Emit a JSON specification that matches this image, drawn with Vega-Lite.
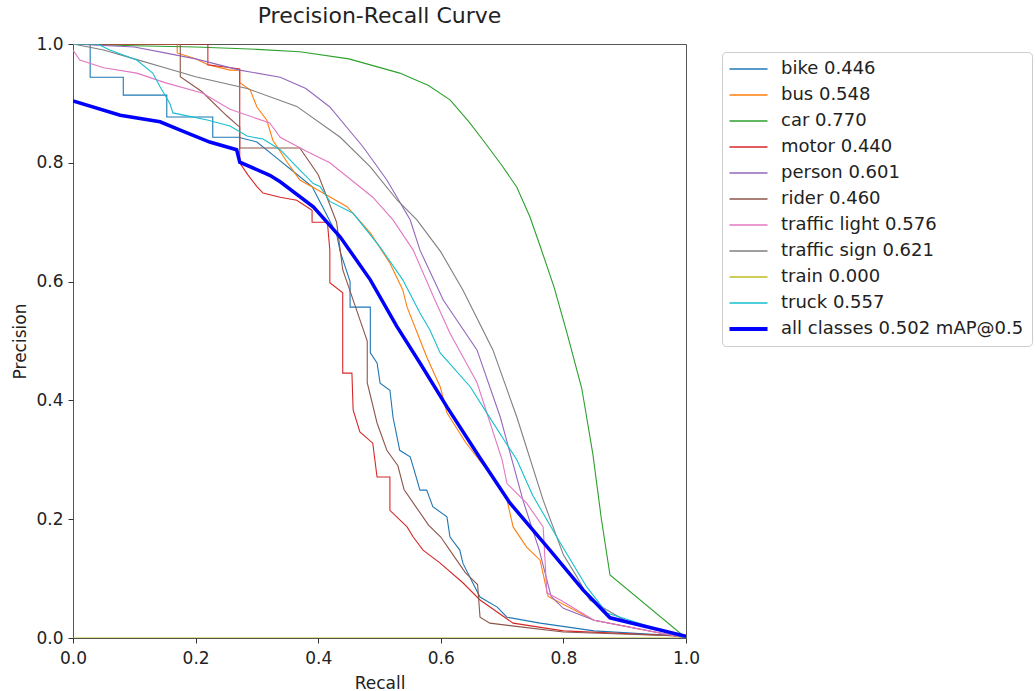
{
"$schema":"https://vega.github.io/schema/vega-lite/v6.json",
"width":613,"height":594,
"autosize":{"type":"none"},
"padding":{"left":73,"top":44,"right":349,"bottom":53},
"config":{"font":"DejaVu Sans","view":{"stroke":"#555","strokeWidth":1}},
"title":{"text":"Precision-Recall Curve","fontSize":22,"fontWeight":"normal","font":"DejaVu Sans","offset":7,"color":"#222"},
"data":{"values":[
{"c":"bike 0.446","x":0,"y":1},{"c":"bike 0.446","x":0.028,"y":1},{"c":"bike 0.446","x":0.028,"y":0.944},{"c":"bike 0.446","x":0.082,"y":0.944},{"c":"bike 0.446","x":0.082,"y":0.914},{"c":"bike 0.446","x":0.153,"y":0.914},{"c":"bike 0.446","x":0.153,"y":0.877},{"c":"bike 0.446","x":0.228,"y":0.877},{"c":"bike 0.446","x":0.228,"y":0.843},{"c":"bike 0.446","x":0.27,"y":0.843},{"c":"bike 0.446","x":0.3,"y":0.835},{"c":"bike 0.446","x":0.33,"y":0.81},{"c":"bike 0.446","x":0.36,"y":0.785},{"c":"bike 0.446","x":0.39,"y":0.76},{"c":"bike 0.446","x":0.41,"y":0.72},{"c":"bike 0.446","x":0.43,"y":0.68},{"c":"bike 0.446","x":0.436,"y":0.65},{"c":"bike 0.446","x":0.452,"y":0.6},{"c":"bike 0.446","x":0.452,"y":0.557},{"c":"bike 0.446","x":0.485,"y":0.557},{"c":"bike 0.446","x":0.485,"y":0.48},{"c":"bike 0.446","x":0.496,"y":0.463},{"c":"bike 0.446","x":0.501,"y":0.429},{"c":"bike 0.446","x":0.517,"y":0.417},{"c":"bike 0.446","x":0.522,"y":0.372},{"c":"bike 0.446","x":0.533,"y":0.316},{"c":"bike 0.446","x":0.55,"y":0.305},{"c":"bike 0.446","x":0.555,"y":0.288},{"c":"bike 0.446","x":0.566,"y":0.249},{"c":"bike 0.446","x":0.577,"y":0.249},{"c":"bike 0.446","x":0.587,"y":0.221},{"c":"bike 0.446","x":0.61,"y":0.204},{"c":"bike 0.446","x":0.615,"y":0.17},{"c":"bike 0.446","x":0.631,"y":0.148},{"c":"bike 0.446","x":0.636,"y":0.126},{"c":"bike 0.446","x":0.652,"y":0.093},{"c":"bike 0.446","x":0.664,"y":0.069},{"c":"bike 0.446","x":0.692,"y":0.052},{"c":"bike 0.446","x":0.708,"y":0.035},{"c":"bike 0.446","x":0.762,"y":0.025},{"c":"bike 0.446","x":0.85,"y":0.012},{"c":"bike 0.446","x":1,"y":0.003},
{"c":"bus 0.548","x":0,"y":1},{"c":"bus 0.548","x":0.17,"y":1},{"c":"bus 0.548","x":0.17,"y":0.985},{"c":"bus 0.548","x":0.2,"y":0.975},{"c":"bus 0.548","x":0.22,"y":0.965},{"c":"bus 0.548","x":0.256,"y":0.956},{"c":"bus 0.548","x":0.272,"y":0.956},{"c":"bus 0.548","x":0.272,"y":0.935},{"c":"bus 0.548","x":0.289,"y":0.923},{"c":"bus 0.548","x":0.3,"y":0.894},{"c":"bus 0.548","x":0.316,"y":0.872},{"c":"bus 0.548","x":0.326,"y":0.838},{"c":"bus 0.548","x":0.35,"y":0.8},{"c":"bus 0.548","x":0.37,"y":0.771},{"c":"bus 0.548","x":0.408,"y":0.749},{"c":"bus 0.548","x":0.447,"y":0.726},{"c":"bus 0.548","x":0.485,"y":0.682},{"c":"bus 0.548","x":0.517,"y":0.631},{"c":"bus 0.548","x":0.538,"y":0.586},{"c":"bus 0.548","x":0.545,"y":0.557},{"c":"bus 0.548","x":0.566,"y":0.502},{"c":"bus 0.548","x":0.577,"y":0.473},{"c":"bus 0.548","x":0.599,"y":0.423},{"c":"bus 0.548","x":0.61,"y":0.379},{"c":"bus 0.548","x":0.64,"y":0.33},{"c":"bus 0.548","x":0.67,"y":0.29},{"c":"bus 0.548","x":0.692,"y":0.26},{"c":"bus 0.548","x":0.708,"y":0.232},{"c":"bus 0.548","x":0.718,"y":0.187},{"c":"bus 0.548","x":0.74,"y":0.153},{"c":"bus 0.548","x":0.762,"y":0.131},{"c":"bus 0.548","x":0.775,"y":0.07},{"c":"bus 0.548","x":0.85,"y":0.03},{"c":"bus 0.548","x":1,"y":0},
{"c":"car 0.770","x":0,"y":1},{"c":"car 0.770","x":0.1,"y":0.997},{"c":"car 0.770","x":0.2,"y":0.995},{"c":"car 0.770","x":0.3,"y":0.991},{"c":"car 0.770","x":0.37,"y":0.987},{"c":"car 0.770","x":0.45,"y":0.975},{"c":"car 0.770","x":0.533,"y":0.951},{"c":"car 0.770","x":0.58,"y":0.93},{"c":"car 0.770","x":0.615,"y":0.906},{"c":"car 0.770","x":0.645,"y":0.87},{"c":"car 0.770","x":0.669,"y":0.838},{"c":"car 0.770","x":0.7,"y":0.795},{"c":"car 0.770","x":0.724,"y":0.759},{"c":"car 0.770","x":0.745,"y":0.71},{"c":"car 0.770","x":0.762,"y":0.66},{"c":"car 0.770","x":0.785,"y":0.59},{"c":"car 0.770","x":0.806,"y":0.513},{"c":"car 0.770","x":0.83,"y":0.42},{"c":"car 0.770","x":0.848,"y":0.31},{"c":"car 0.770","x":0.862,"y":0.2},{"c":"car 0.770","x":0.876,"y":0.106},{"c":"car 0.770","x":1,"y":0},
{"c":"motor 0.440","x":0,"y":1},{"c":"motor 0.440","x":0.22,"y":1},{"c":"motor 0.440","x":0.22,"y":0.965},{"c":"motor 0.440","x":0.272,"y":0.958},{"c":"motor 0.440","x":0.272,"y":0.8},{"c":"motor 0.440","x":0.285,"y":0.78},{"c":"motor 0.440","x":0.3,"y":0.76},{"c":"motor 0.440","x":0.31,"y":0.749},{"c":"motor 0.440","x":0.338,"y":0.742},{"c":"motor 0.440","x":0.365,"y":0.737},{"c":"motor 0.440","x":0.39,"y":0.72},{"c":"motor 0.440","x":0.39,"y":0.7},{"c":"motor 0.440","x":0.415,"y":0.7},{"c":"motor 0.440","x":0.419,"y":0.653},{"c":"motor 0.440","x":0.419,"y":0.598},{"c":"motor 0.440","x":0.44,"y":0.581},{"c":"motor 0.440","x":0.44,"y":0.446},{"c":"motor 0.440","x":0.455,"y":0.446},{"c":"motor 0.440","x":0.457,"y":0.384},{"c":"motor 0.440","x":0.468,"y":0.347},{"c":"motor 0.440","x":0.489,"y":0.328},{"c":"motor 0.440","x":0.496,"y":0.271},{"c":"motor 0.440","x":0.517,"y":0.271},{"c":"motor 0.440","x":0.517,"y":0.215},{"c":"motor 0.440","x":0.545,"y":0.187},{"c":"motor 0.440","x":0.555,"y":0.17},{"c":"motor 0.440","x":0.571,"y":0.148},{"c":"motor 0.440","x":0.599,"y":0.126},{"c":"motor 0.440","x":0.636,"y":0.093},{"c":"motor 0.440","x":0.664,"y":0.064},{"c":"motor 0.440","x":0.718,"y":0.025},{"c":"motor 0.440","x":0.8,"y":0.012},{"c":"motor 0.440","x":1,"y":0.003},
{"c":"person 0.601","x":0,"y":1},{"c":"person 0.601","x":0.1,"y":0.995},{"c":"person 0.601","x":0.15,"y":0.985},{"c":"person 0.601","x":0.2,"y":0.975},{"c":"person 0.601","x":0.272,"y":0.956},{"c":"person 0.601","x":0.338,"y":0.944},{"c":"person 0.601","x":0.38,"y":0.925},{"c":"person 0.601","x":0.419,"y":0.894},{"c":"person 0.601","x":0.473,"y":0.827},{"c":"person 0.601","x":0.512,"y":0.771},{"c":"person 0.601","x":0.55,"y":0.704},{"c":"person 0.601","x":0.566,"y":0.653},{"c":"person 0.601","x":0.604,"y":0.569},{"c":"person 0.601","x":0.659,"y":0.485},{"c":"person 0.601","x":0.697,"y":0.372},{"c":"person 0.601","x":0.734,"y":0.232},{"c":"person 0.601","x":0.76,"y":0.15},{"c":"person 0.601","x":0.78,"y":0.07},{"c":"person 0.601","x":0.8,"y":0.05},{"c":"person 0.601","x":0.85,"y":0.03},{"c":"person 0.601","x":1,"y":0},
{"c":"rider 0.460","x":0,"y":1},{"c":"rider 0.460","x":0.175,"y":1},{"c":"rider 0.460","x":0.175,"y":0.945},{"c":"rider 0.460","x":0.21,"y":0.92},{"c":"rider 0.460","x":0.25,"y":0.88},{"c":"rider 0.460","x":0.272,"y":0.86},{"c":"rider 0.460","x":0.272,"y":0.825},{"c":"rider 0.460","x":0.37,"y":0.825},{"c":"rider 0.460","x":0.4,"y":0.78},{"c":"rider 0.460","x":0.43,"y":0.7},{"c":"rider 0.460","x":0.44,"y":0.62},{"c":"rider 0.460","x":0.46,"y":0.56},{"c":"rider 0.460","x":0.48,"y":0.5},{"c":"rider 0.460","x":0.48,"y":0.43},{"c":"rider 0.460","x":0.496,"y":0.362},{"c":"rider 0.460","x":0.512,"y":0.316},{"c":"rider 0.460","x":0.53,"y":0.29},{"c":"rider 0.460","x":0.54,"y":0.25},{"c":"rider 0.460","x":0.56,"y":0.22},{"c":"rider 0.460","x":0.58,"y":0.19},{"c":"rider 0.460","x":0.6,"y":0.17},{"c":"rider 0.460","x":0.62,"y":0.14},{"c":"rider 0.460","x":0.64,"y":0.11},{"c":"rider 0.460","x":0.66,"y":0.09},{"c":"rider 0.460","x":0.664,"y":0.035},{"c":"rider 0.460","x":0.68,"y":0.025},{"c":"rider 0.460","x":0.72,"y":0.02},{"c":"rider 0.460","x":0.8,"y":0.01},{"c":"rider 0.460","x":1,"y":0.003},
{"c":"traffic light 0.576","x":0,"y":0.99},{"c":"traffic light 0.576","x":0.011,"y":0.973},{"c":"traffic light 0.576","x":0.05,"y":0.96},{"c":"traffic light 0.576","x":0.104,"y":0.951},{"c":"traffic light 0.576","x":0.15,"y":0.935},{"c":"traffic light 0.576","x":0.212,"y":0.917},{"c":"traffic light 0.576","x":0.256,"y":0.89},{"c":"traffic light 0.576","x":0.321,"y":0.867},{"c":"traffic light 0.576","x":0.338,"y":0.843},{"c":"traffic light 0.576","x":0.38,"y":0.82},{"c":"traffic light 0.576","x":0.419,"y":0.8},{"c":"traffic light 0.576","x":0.489,"y":0.742},{"c":"traffic light 0.576","x":0.522,"y":0.704},{"c":"traffic light 0.576","x":0.555,"y":0.653},{"c":"traffic light 0.576","x":0.59,"y":0.57},{"c":"traffic light 0.576","x":0.615,"y":0.513},{"c":"traffic light 0.576","x":0.659,"y":0.43},{"c":"traffic light 0.576","x":0.7,"y":0.3},{"c":"traffic light 0.576","x":0.708,"y":0.26},{"c":"traffic light 0.576","x":0.74,"y":0.227},{"c":"traffic light 0.576","x":0.767,"y":0.187},{"c":"traffic light 0.576","x":0.773,"y":0.076},{"c":"traffic light 0.576","x":0.795,"y":0.064},{"c":"traffic light 0.576","x":0.85,"y":0.03},{"c":"traffic light 0.576","x":1,"y":0},
{"c":"traffic sign 0.621","x":0,"y":1},{"c":"traffic sign 0.621","x":0.05,"y":0.99},{"c":"traffic sign 0.621","x":0.1,"y":0.975},{"c":"traffic sign 0.621","x":0.15,"y":0.96},{"c":"traffic sign 0.621","x":0.2,"y":0.945},{"c":"traffic sign 0.621","x":0.284,"y":0.925},{"c":"traffic sign 0.621","x":0.365,"y":0.895},{"c":"traffic sign 0.621","x":0.436,"y":0.843},{"c":"traffic sign 0.621","x":0.485,"y":0.793},{"c":"traffic sign 0.621","x":0.529,"y":0.737},{"c":"traffic sign 0.621","x":0.561,"y":0.704},{"c":"traffic sign 0.621","x":0.6,"y":0.65},{"c":"traffic sign 0.621","x":0.636,"y":0.586},{"c":"traffic sign 0.621","x":0.685,"y":0.485},{"c":"traffic sign 0.621","x":0.724,"y":0.372},{"c":"traffic sign 0.621","x":0.767,"y":0.232},{"c":"traffic sign 0.621","x":0.8,"y":0.14},{"c":"traffic sign 0.621","x":0.822,"y":0.103},{"c":"traffic sign 0.621","x":0.843,"y":0.064},{"c":"traffic sign 0.621","x":0.9,"y":0.03},{"c":"traffic sign 0.621","x":1,"y":0},
{"c":"train 0.000","x":0,"y":0},{"c":"train 0.000","x":1,"y":0},
{"c":"truck 0.557","x":0,"y":1},{"c":"truck 0.557","x":0.04,"y":1},{"c":"truck 0.557","x":0.06,"y":0.99},{"c":"truck 0.557","x":0.104,"y":0.973},{"c":"truck 0.557","x":0.13,"y":0.951},{"c":"truck 0.557","x":0.142,"y":0.928},{"c":"truck 0.557","x":0.158,"y":0.9},{"c":"truck 0.557","x":0.163,"y":0.884},{"c":"truck 0.557","x":0.219,"y":0.872},{"c":"truck 0.557","x":0.256,"y":0.862},{"c":"truck 0.557","x":0.284,"y":0.845},{"c":"truck 0.557","x":0.31,"y":0.84},{"c":"truck 0.557","x":0.338,"y":0.822},{"c":"truck 0.557","x":0.365,"y":0.793},{"c":"truck 0.557","x":0.392,"y":0.765},{"c":"truck 0.557","x":0.403,"y":0.76},{"c":"truck 0.557","x":0.419,"y":0.735},{"c":"truck 0.557","x":0.457,"y":0.715},{"c":"truck 0.557","x":0.501,"y":0.658},{"c":"truck 0.557","x":0.538,"y":0.603},{"c":"truck 0.557","x":0.566,"y":0.547},{"c":"truck 0.557","x":0.582,"y":0.519},{"c":"truck 0.557","x":0.599,"y":0.48},{"c":"truck 0.557","x":0.648,"y":0.423},{"c":"truck 0.557","x":0.675,"y":0.379},{"c":"truck 0.557","x":0.724,"y":0.3},{"c":"truck 0.557","x":0.75,"y":0.24},{"c":"truck 0.557","x":0.795,"y":0.16},{"c":"truck 0.557","x":0.838,"y":0.086},{"c":"truck 0.557","x":0.871,"y":0.042},{"c":"truck 0.557","x":1,"y":0},
{"c":"all classes 0.502 mAP@0.5","x":0,"y":0.904},{"c":"all classes 0.502 mAP@0.5","x":0.077,"y":0.88},{"c":"all classes 0.502 mAP@0.5","x":0.142,"y":0.869},{"c":"all classes 0.502 mAP@0.5","x":0.175,"y":0.855},{"c":"all classes 0.502 mAP@0.5","x":0.223,"y":0.835},{"c":"all classes 0.502 mAP@0.5","x":0.267,"y":0.822},{"c":"all classes 0.502 mAP@0.5","x":0.272,"y":0.801},{"c":"all classes 0.502 mAP@0.5","x":0.321,"y":0.779},{"c":"all classes 0.502 mAP@0.5","x":0.338,"y":0.768},{"c":"all classes 0.502 mAP@0.5","x":0.392,"y":0.726},{"c":"all classes 0.502 mAP@0.5","x":0.436,"y":0.675},{"c":"all classes 0.502 mAP@0.5","x":0.485,"y":0.603},{"c":"all classes 0.502 mAP@0.5","x":0.528,"y":0.525},{"c":"all classes 0.502 mAP@0.5","x":0.566,"y":0.463},{"c":"all classes 0.502 mAP@0.5","x":0.61,"y":0.389},{"c":"all classes 0.502 mAP@0.5","x":0.664,"y":0.303},{"c":"all classes 0.502 mAP@0.5","x":0.713,"y":0.227},{"c":"all classes 0.502 mAP@0.5","x":0.778,"y":0.148},{"c":"all classes 0.502 mAP@0.5","x":0.832,"y":0.081},{"c":"all classes 0.502 mAP@0.5","x":0.876,"y":0.034},{"c":"all classes 0.502 mAP@0.5","x":0.936,"y":0.019},{"c":"all classes 0.502 mAP@0.5","x":1,"y":0.003}
]},
"encoding":{
"x":{"field":"x","type":"quantitative","scale":{"domain":[0,1],"nice":false},"axis":{"title":"Recall","values":[0,0.2,0.4,0.6,0.8,1],"format":".1f","grid":false,"domain":false,"labelFlush":false,"tickColor":"#333","tickSize":5,"labelFontSize":17,"labelColor":"#222","labelPadding":7,"titleFontSize":17,"titleFontWeight":"normal","titleColor":"#222","titlePadding":9}},
"y":{"field":"y","type":"quantitative","scale":{"domain":[0,1],"nice":false},"axis":{"title":"Precision","values":[0,0.2,0.4,0.6,0.8,1],"format":".1f","grid":false,"domain":false,"labelFlush":false,"tickColor":"#333","tickSize":5,"labelFontSize":17,"labelColor":"#222","labelPadding":5,"titleFontSize":17,"titleFontWeight":"normal","titleColor":"#222","titlePadding":6}},
"color":{"field":"c","type":"nominal","scale":{"domain":["bike 0.446","bus 0.548","car 0.770","motor 0.440","person 0.601","rider 0.460","traffic light 0.576","traffic sign 0.621","train 0.000","truck 0.557","all classes 0.502 mAP@0.5"],"range":["#1f77b4","#ff7f0e","#2ca02c","#d62728","#9467bd","#8c564b","#e377c2","#7f7f7f","#bcbd22","#17becf","#0000ff"]},"legend":{"orient":"none","legendX":649,"legendY":8,"title":null,"labelFontSize":18,"labelColor":"#222","labelLimit":500,"symbolType":"M-1,0H3","symbolSize":361,"strokeColor":"#ccc","padding":8,"cornerRadius":4,"rowPadding":8,"labelOffset":33,"encode":{"symbols":{"update":{"fill":{"value":"transparent"},"strokeWidth":{"signal":"datum.value === 'all classes 0.502 mAP@0.5' ? 4 : 1.5"}}}}}},
"order":{"value":null}
},
"layer":[
{"transform":[{"filter":"datum.c !== 'all classes 0.502 mAP@0.5'"}],"mark":{"type":"line","clip":true,"strokeWidth":1.1}},
{"transform":[{"filter":"datum.c === 'all classes 0.502 mAP@0.5'"}],"mark":{"type":"line","clip":true,"strokeWidth":3.5}}
]
}
